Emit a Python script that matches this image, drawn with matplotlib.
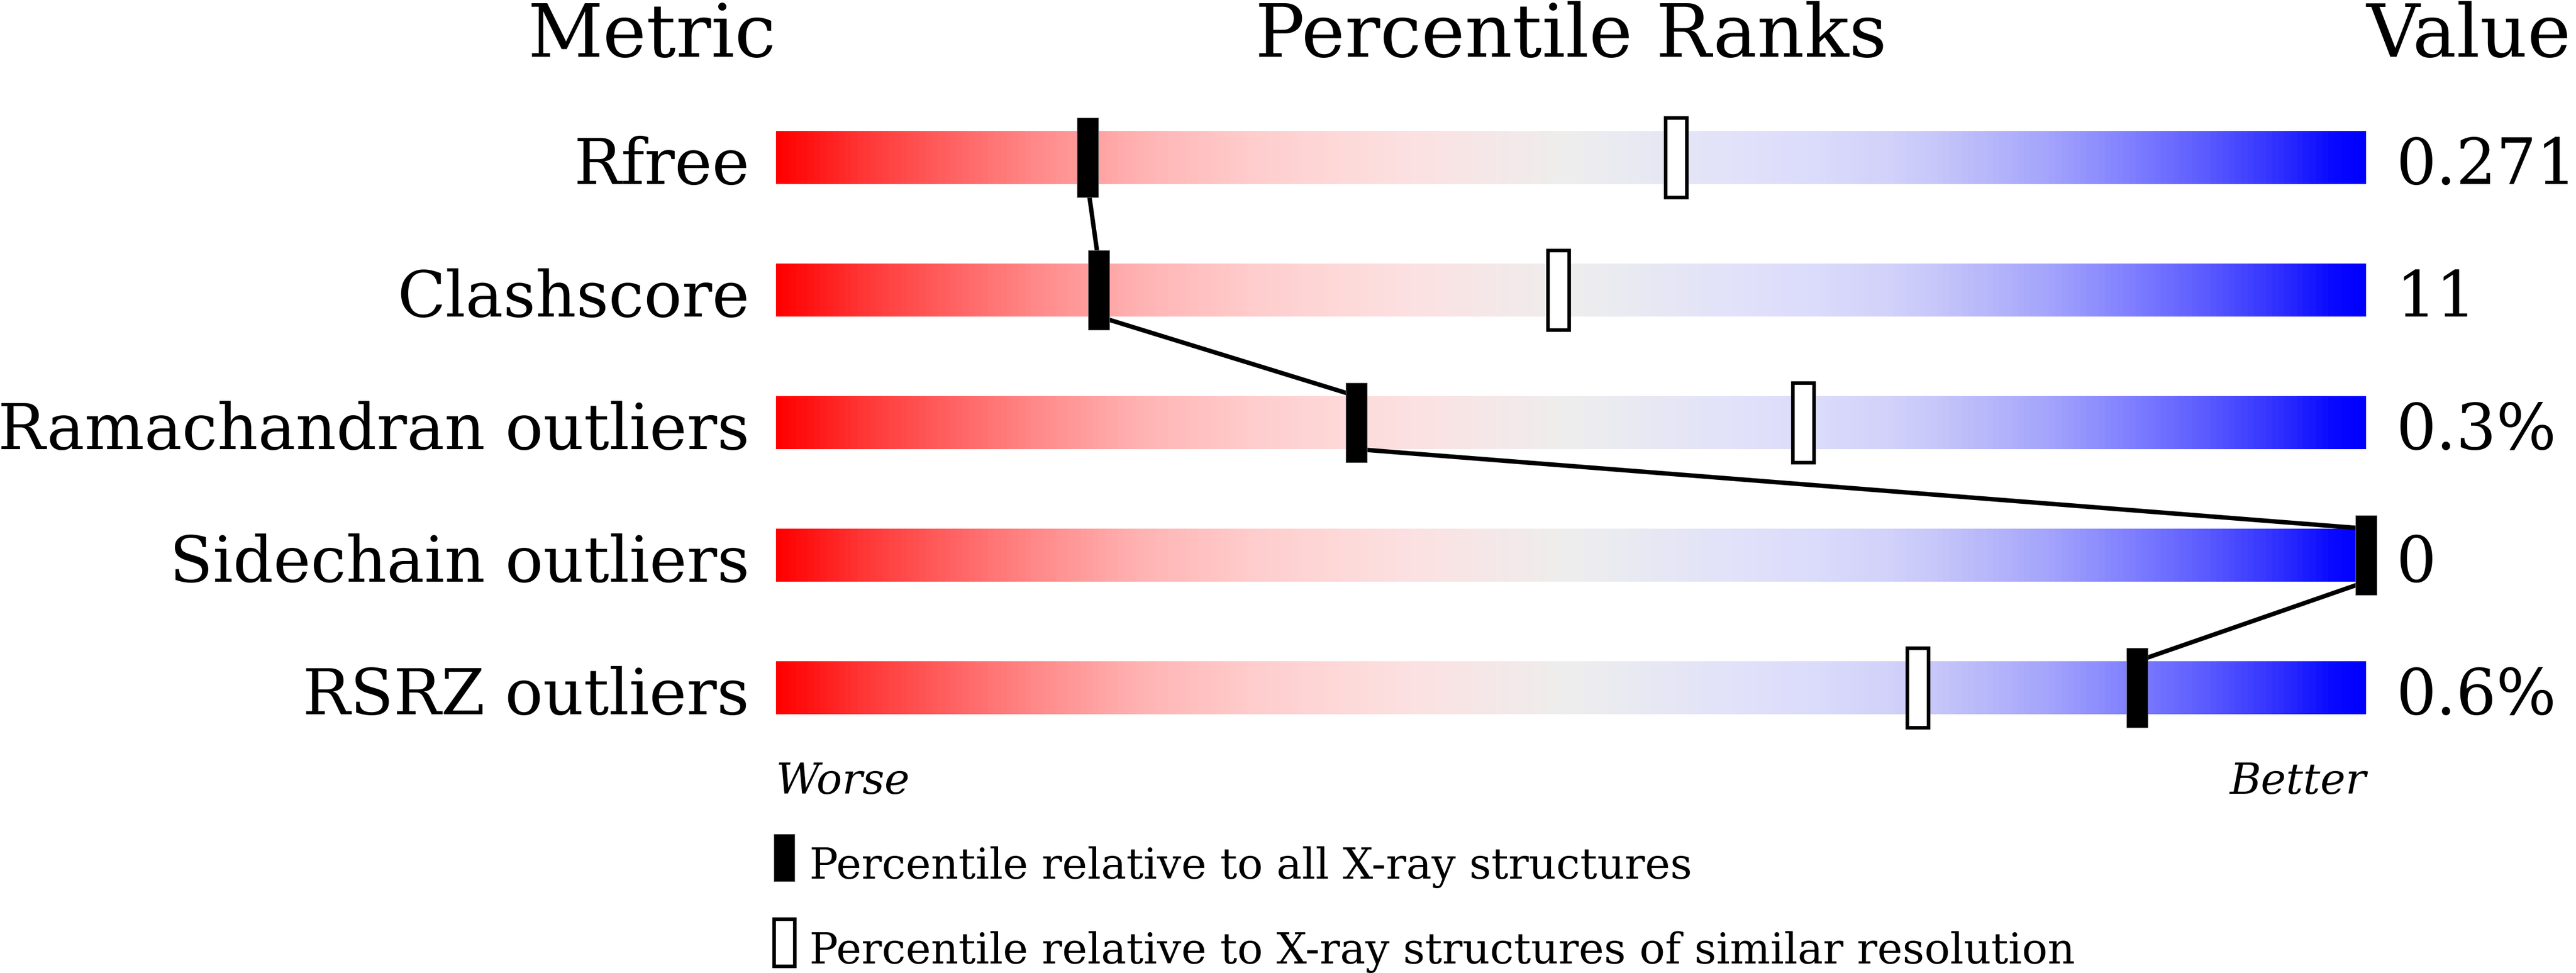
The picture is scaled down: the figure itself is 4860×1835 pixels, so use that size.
import numpy as np
import matplotlib
matplotlib.use("Agg")
import matplotlib.pyplot as plt
from matplotlib.colors import LinearSegmentedColormap
from matplotlib.patches import Rectangle

# data
metrics = ["Rfree", "Clashscore", "Ramachandran outliers", "Sidechain outliers", "RSRZ outliers"]
values = ["0.271", "11", "0.3%", "0", "0.6%"]
pct_all = [19.6, 20.3, 36.5, 100.0, 85.6]          # black markers
pct_similar = [56.6, 49.2, 64.6, None, 71.8]       # hollow markers
legend_labels = ["Percentile relative to all X-ray structures",
                 "Percentile relative to X-ray structures of similar resolution"]

plt.rcParams['font.family'] = ['DejaVu Serif']

# red -> grey -> blue slider colours
stops = [(0.00, (255, 0, 0)), (0.05, (255, 52, 52)), (0.105, (255, 95, 95)),
         (0.16, (255, 136, 136)), (0.23, (255, 180, 180)), (0.30, (255, 205, 205)),
         (0.36, (254, 218, 218)), (0.40, (252, 225, 226)), (0.50, (238, 238, 238)),
         (0.60, (226, 226, 250)), (0.65, (220, 220, 252)), (0.70, (210, 210, 250)),
         (0.73, (199, 199, 250)), (0.80, (165, 165, 252)), (0.85, (130, 130, 255)),
         (0.90, (92, 92, 255)), (0.945, (50, 50, 255)), (0.98, (10, 10, 255)),
         (1.00, (0, 0, 255))]
cmap = LinearSegmentedColormap.from_list(
    "slider", [(p, tuple(c / 255 for c in rgb)) for p, rgb in stops])

W, H = 4860, 1835
fig = plt.figure(figsize=(W / 100, H / 100), dpi=100)
# bar area: x 1464..4464 px, rows centred at 297 + 250*i px
ax = fig.add_axes([1464 / W, (H - 1422) / H, 3000 / W, 1250 / H])
ax.set_xlim(0, 100)
ax.set_ylim(4.5, -0.5)
ax.axis("off")

bar_h = 0.4
mark_h = 0.6
mark_w = 40 / 30.0  # 40 px in percentile units

grad = np.linspace(0, 1, 1000).reshape(1, -1)
for i in range(len(metrics)):
    ax.imshow(grad, cmap=cmap, aspect="auto", interpolation="bilinear",
              extent=(0, 100, i + bar_h / 2, i - bar_h / 2), zorder=1)

# connecting line between black markers (bottom of one bar to top of next)
lx, ly = [], []
for i, p in enumerate(pct_all):
    if i > 0:
        lx.append(p)
        ly.append(i - bar_h / 2)
    if i < len(pct_all) - 1:
        lx.append(p)
        ly.append(i + bar_h / 2)
ax.plot(lx, ly, color="black", lw=6.0, zorder=2, clip_on=False,
        solid_capstyle="butt")

for i, p in enumerate(pct_similar):
    if p is None:
        continue
    ax.add_patch(Rectangle((p - mark_w / 2, i - mark_h / 2), mark_w, mark_h,
                           facecolor="white", edgecolor="black", lw=4.8,
                           zorder=3, clip_on=False))
for i, p in enumerate(pct_all):
    ax.add_patch(Rectangle((p - mark_w / 2, i - mark_h / 2), mark_w, mark_h,
                           facecolor="black", edgecolor="#666666", lw=0.8,
                           zorder=4, clip_on=False))

# labels
lab_fs = 85.8
for i, (m, v) in enumerate(zip(metrics, values)):
    ax.text(-1.67, i + bar_h / 2, m, ha="right", va="baseline", fontsize=lab_fs)
    ax.text(101.87, i + bar_h / 2, v, ha="left", va="baseline", fontsize=lab_fs)

hdr_fs = 100
ax.text(0, -0.76, "Metric", ha="right", va="baseline", fontsize=hdr_fs)
ax.text(50, -0.76, "Percentile Ranks", ha="center", va="baseline", fontsize=hdr_fs)
ax.text(100, -0.76, "Value", ha="left", va="baseline", fontsize=hdr_fs)

small_fs = 58
ax.text(0, 4.8, "Worse", ha="left", va="baseline", fontsize=small_fs, style="italic")
ax.text(100, 4.8, "Better", ha="right", va="baseline", fontsize=small_fs, style="italic")

# legend
ax.add_patch(Rectangle((-0.13, 5.104), 1.3, 0.356, facecolor="black",
                       edgecolor="#666666", lw=0.8, clip_on=False))
ax.text(2.1, 5.44, legend_labels[0], ha="left", va="baseline", fontsize=small_fs)
ax.add_patch(Rectangle((-0.13, 5.744), 1.3, 0.356, facecolor="white",
                       edgecolor="black", lw=4.8, clip_on=False))
ax.text(2.1, 6.08, legend_labels[1], ha="left", va="baseline", fontsize=small_fs)

fig.savefig("out.png", dpi=100, facecolor="white")
